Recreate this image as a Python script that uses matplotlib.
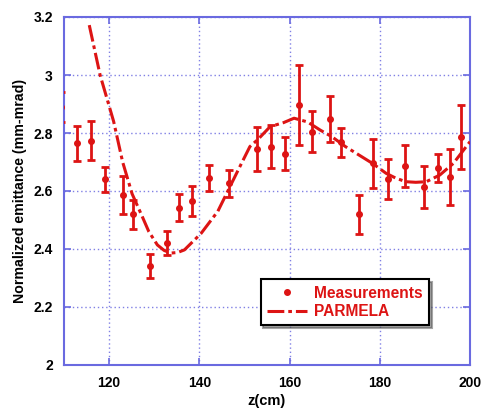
import matplotlib
matplotlib.use("Agg")
import matplotlib.pyplot as plt
from matplotlib.lines import Line2D

plt.rcParams['font.family'] = ['Liberation Sans', 'DejaVu Sans']
plt.rcParams['font.weight'] = 'bold'

# Measured emittance with error bars
z_meas = [109.4, 112.8, 116.0, 119.0, 123.0, 125.3, 129.0, 132.8, 135.5, 138.4,
          142.2, 146.6, 152.7, 155.8, 158.9, 162.2, 165.0, 168.9, 171.5, 175.5,
          178.4, 181.9, 185.7, 189.7, 192.9, 195.5, 198.0]
eps_meas = [2.89, 2.764, 2.773, 2.641, 2.586, 2.52, 2.341, 2.42, 2.543, 2.566,
            2.646, 2.626, 2.744, 2.753, 2.728, 2.897, 2.805, 2.848, 2.768, 2.52,
            2.695, 2.641, 2.686, 2.615, 2.68, 2.649, 2.787]
eps_err = [0.053, 0.061, 0.067, 0.043, 0.066, 0.05, 0.042, 0.041, 0.046, 0.051,
           0.045, 0.046, 0.076, 0.075, 0.057, 0.137, 0.071, 0.078, 0.05, 0.067,
           0.083, 0.069, 0.072, 0.072, 0.049, 0.097, 0.111]

# PARMELA simulation
z_sim = [115.6, 118.0, 121.0, 123.0, 125.1, 127.4, 128.8, 130.7, 132.2, 133.7,
         135.2, 136.7, 140.4, 144.1, 148.6, 151.2, 153.0, 155.7, 158.7, 161.0,
         164.0, 166.8, 169.4, 172.4, 175.4, 178.4, 181.4, 183.6, 185.8, 188.0,
         190.3, 193.3, 196.3, 200.0]
eps_sim = [3.172, 3.0, 2.84, 2.70, 2.59, 2.51, 2.46, 2.414, 2.395, 2.386,
           2.388, 2.397, 2.454, 2.53, 2.672, 2.753, 2.778, 2.822, 2.836, 2.851,
           2.838, 2.81, 2.787, 2.753, 2.724, 2.695, 2.661, 2.644, 2.632, 2.630,
           2.632, 2.655, 2.695, 2.77]

xticks = [120, 140, 160, 180, 200]
yticks = [2.0, 2.2, 2.4, 2.6, 2.8, 3.0, 3.2]
ytick_labels = ['2', '2.2', '2.4', '2.6', '2.8', '3', '3.2']

red = '#dd1414'
blue = '#6a6ae0'
dash = (5.5, 1.3, 1.2, 1.3)

fig = plt.figure(figsize=(4.84, 4.12), dpi=100)
ax = fig.add_axes([64 / 484, 47 / 412, 406 / 484, 348 / 412])

ax.plot(z_sim, eps_sim, color=red, lw=2.2, dashes=dash, zorder=3)
ax.errorbar(z_meas, eps_meas, yerr=eps_err, fmt='o', color=red, ms=4,
            elinewidth=2, capsize=3, capthick=2, zorder=4)

ax.set_xlim(110, 200)
ax.set_ylim(2.0, 3.2)
ax.set_xticks(xticks)
ax.set_yticks(yticks)
ax.set_yticklabels(ytick_labels)
ax.tick_params(direction='in', length=5, width=1.2, color=blue,
               top=True, right=True, labelsize=10, pad=8)
for lbl in ax.get_xticklabels() + ax.get_yticklabels():
    lbl.set_fontweight('bold')
for s in ax.spines.values():
    s.set_color(blue)
    s.set_linewidth(1.5)
ax.grid(True, color=blue, linestyle=(0, (1, 2)), linewidth=1.0, alpha=0.85)

ax.set_xlabel('z(cm)', fontsize=10.5, fontweight='bold', labelpad=3)
ax.set_ylabel('Normalized emittance (mm-mrad)', fontsize=10.2,
              fontweight='bold', labelpad=5)

handles = [Line2D([], [], color=red, marker='o', ms=4, ls='none'),
           Line2D([], [], color=red, lw=2.2, dashes=dash)]
leg = ax.legend(handles, ['Measurements', 'PARMELA'],
                loc='upper left', bbox_to_anchor=(0.484, 0.246),
                borderaxespad=0, fancybox=False, shadow=True, framealpha=1,
                edgecolor='black', fontsize=11.2, handlelength=2.6,
                borderpad=0.4, labelspacing=0.22, handletextpad=0.45)
leg.get_frame().set_linewidth(1.5)
for t in leg.get_texts():
    t.set_color(red)
    t.set_fontweight('bold')

fig.savefig('out.png', dpi=100)
